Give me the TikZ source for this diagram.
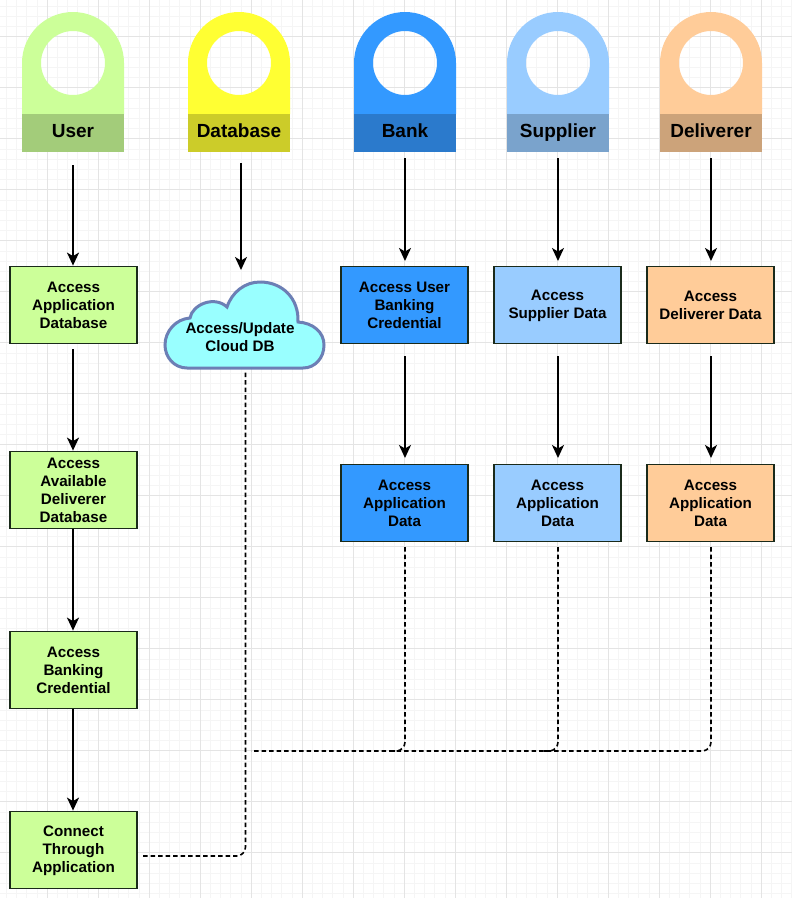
\documentclass[tikz,border=0pt]{standalone}
\usepackage{fontspec}
\setmainfont{Liberation Sans}
\usetikzlibrary{arrows.meta}
\definecolor{gridminor}{HTML}{F5F5F5}
\definecolor{gridmajor}{HTML}{E4E4E4}
\definecolor{ucol}{HTML}{CCFF99}\definecolor{uband}{HTML}{A3CC7A}
\definecolor{dcol}{HTML}{FFFF33}\definecolor{dband}{HTML}{CCCC29}
\definecolor{bcol}{HTML}{3399FF}\definecolor{bband}{HTML}{2B7ACC}
\definecolor{scol}{HTML}{99CCFF}\definecolor{sband}{HTML}{7AA3CC}
\definecolor{fcol}{HTML}{FFCC99}\definecolor{fband}{HTML}{CCA37A}
\definecolor{cloudfill}{HTML}{99FFFF}\definecolor{cloudline}{HTML}{6C7FB5}
\definecolor{boxline}{HTML}{1A2A1A}
\newcommand{\st}{\rule[-2.5pt]{0pt}{15.5pt}}
\tikzset{
  x=1pt,y=-1pt,
  actbox/.style={draw=boxline,line width=1.8pt,minimum width=127pt,minimum height=77pt,inner sep=0pt,align=center,font=\fontsize{15.2}{18}\selectfont\bfseries},
  band/.style={minimum width=102pt,minimum height=38pt,inner sep=0pt,text height=13.5pt,text depth=4.5pt,font=\fontsize{19}{22}\selectfont\bfseries},
  flow/.style={-{Stealth[length=13pt,width=12pt,inset=3.5pt]},line width=1.7pt,black},
  link/.style={line width=1.6pt,dash pattern=on 4.5pt off 3pt,rounded corners=9pt,black},
  pin/.style={even odd rule,draw=none}
}
\newcommand{\pinshape}[2]{\fill[pin,#2] ({#1-51},114) -- ({#1-51},63) arc[start angle=180,end angle=360,radius=51] -- ({#1+51},114) -- cycle (#1,63) circle[radius=32];}
\begin{document}
\begin{tikzpicture}
\useasboundingbox (0,0) rectangle (792,898);
\fill[white] (0,0) rectangle (792,898);
\foreach \i in {0,...,78} {\draw[gridminor,line width=.7pt] ({\i*10.2+6.4},0) -- ({\i*10.2+6.4},898);}
\foreach \i in {0,...,88} {\draw[gridminor,line width=.7pt] (0,{\i*10.2+6.2}) -- (792,{\i*10.2+6.2});}
\foreach \i in {0,...,15} {\draw[gridmajor,line width=.8pt] ({\i*51-4},0) -- ({\i*51-4},898);}
\foreach \i in {0,...,17} {\draw[gridmajor,line width=.8pt] (0,{\i*51-14.3}) -- (792,{\i*51-14.3});}

\pinshape{73}{ucol}
\pinshape{239}{dcol}
\pinshape{405}{bcol}
\pinshape{558}{scol}
\pinshape{711}{fcol}
\node[band,fill=uband] (huser) at (73,133) {User};
\node[band,fill=dband] (hdb) at (239,133) {Database};
\node[band,fill=bband] (hbank) at (405,133) {Bank};
\node[band,fill=sband] (hsup) at (558,133) {Supplier};
\node[band,fill=fband] (hdel) at (711,133) {Deliverer};

\node[actbox,fill=ucol] (u1) at (73.5,305) {\st Access\\\st Application\\\st Database};
\node[actbox,fill=ucol] (u2) at (73.5,490) {\st Access\\\st Available\\\st Deliverer\\\st Database};
\node[actbox,fill=ucol] (u3) at (73.5,670) {\st Access\\\st Banking\\\st Credential};
\node[actbox,fill=ucol] (u4) at (73.5,850) {\st Connect\\\st Through\\\st Application};
\node[actbox,fill=bcol] (b1) at (404.5,305) {\st Access User\\\st Banking\\\st Credential};
\node[actbox,fill=bcol] (b2) at (404.5,503) {\st Access\\\st Application\\\st Data};
\node[actbox,fill=scol] (s1) at (557.5,305) {\st Access\\\st Supplier Data};
\node[actbox,fill=scol] (s2) at (557.5,503) {\st Access\\\st Application\\\st Data};
\node[actbox,fill=fcol] (f1) at (710.5,305) {\st Access\\\st Deliverer Data};
\node[actbox,fill=fcol] (f2) at (710.5,503) {\st Access\\\st Application\\\st Data};

\draw[fill=cloudfill,draw=cloudline,line width=3pt]
  (187,368) .. controls (174,368) and (165,357) .. (165,345)
  .. controls (165,331) and (176,319) .. (190,318)
  .. controls (192,305) and (214,295) .. (227,307)
  .. controls (232,292) and (245,282) .. (260,282)
  .. controls (282,282) and (299,298) .. (298,322)
  .. controls (313,323) and (324,332) .. (324,345)
  .. controls (324,358) and (315,368) .. (303,368) -- cycle;
\node[inner sep=0pt,align=center,font=\fontsize{15.2}{18}\selectfont\bfseries] (cloud) at (240,337.5) {\st Access/Update\\\st Cloud DB};

\coordinate (au) at (73,165);
\coordinate (ad) at (241,163);
\coordinate (adend) at (241,270);
\coordinate (ab) at (405,158);
\coordinate (abend) at (405,261);
\coordinate (as) at (558,158);
\coordinate (asend) at (558,261);
\coordinate (af) at (711,158);
\coordinate (afend) at (711,261);
\coordinate (a1) at (73,349);
\coordinate (b1s) at (405,356);
\coordinate (b2e) at (405,458);
\coordinate (s1s) at (558,356);
\coordinate (s2e) at (558,458);
\coordinate (f1s) at (711,356);
\coordinate (f2e) at (711,458);
\draw[flow] (au) -- (u1.north -| au);
\draw[flow] (ad) -- (adend);
\draw[flow] (ab) -- (abend);
\draw[flow] (as) -- (asend);
\draw[flow] (af) -- (afend);
\draw[flow] (a1) -- (u2.north -| au);
\draw[flow] (u2.south -| au) -- (u3.north -| au);
\draw[flow] (u3.south -| au) -- (u4.north -| au);
\draw[flow] (b1s) -- (b2e);
\draw[flow] (s1s) -- (s2e);
\draw[flow] (f1s) -- (f2e);

\coordinate (cbot) at (245.5,371);
\coordinate (ustart) at (143,856);
\coordinate (ucorner) at (245.5,856);
\coordinate (jstart) at (251,751);
\coordinate (bs) at (405,547);
\coordinate (ss) at (558,547);
\coordinate (fs) at (711,547);
\coordinate (bj) at (405,751);
\coordinate (sj) at (558,751);
\coordinate (fj) at (711,751);
\coordinate (bl) at (388,751);
\coordinate (sl) at (541,751);
\draw[link] (ustart) -- (ucorner) -- (cbot);
\draw[link] (fs) -- (fj) -- (jstart);
\draw[link] (bs) -- (bj) -- (bl);
\draw[link] (ss) -- (sj) -- (sl);
\end{tikzpicture}
\end{document}
